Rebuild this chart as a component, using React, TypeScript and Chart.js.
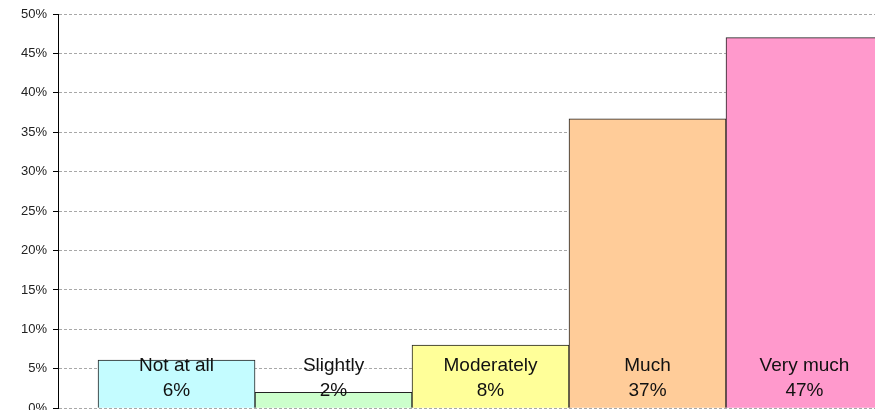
import React, { useEffect, useRef } from "react";
import { Chart, registerables } from "chart.js";

Chart.register(...registerables);

const categories = ["Not at all", "Slightly", "Moderately", "Much", "Very much"];
const values = [6.1, 2.0, 8.0, 36.7, 47.0];
const pctLabels = ["6%", "2%", "8%", "37%", "47%"];
const colors = ["#C4FCFF", "#CCFFCC", "#FFFF99", "#FFCC99", "#FF99CC"];
const yTicks = [0, 5, 10, 15, 20, 25, 30, 35, 40, 45, 50];

const barLabelPlugin = {
  id: "barLabels",
  afterDatasetsDraw(chart: any) {
    const ctx = chart.ctx;
    const meta = chart.getDatasetMeta(0);
    const y0 = chart.scales.y.getPixelForValue(0);
    ctx.save();
    ctx.fillStyle = "#111";
    ctx.font = "19px 'Liberation Sans', Arial, sans-serif";
    ctx.textAlign = "center";
    ctx.textBaseline = "middle";
    meta.data.forEach((bar: any, i: number) => {
      ctx.fillText(categories[i], bar.x, y0 - 42);
      ctx.fillText(pctLabels[i], bar.x, y0 - 17);
    });
    ctx.restore();
  },
};

export default function App() {
  const ref = useRef<HTMLCanvasElement>(null);
  useEffect(() => {
    if (!ref.current) return;
    const chart = new Chart(ref.current, {
      type: "bar",
      data: {
        labels: categories,
        datasets: [
          {
            data: values.map((v, i) => ({ x: i, y: v })),
            backgroundColor: colors,
            borderColor: "#222",
            borderWidth: 1,
            borderSkipped: "bottom",
            barPercentage: 1,
            categoryPercentage: 1,
          },
        ],
      },
      options: {
        animation: false,
        responsive: false,
        devicePixelRatio: 1,
        layout: { padding: { left: 0, top: 14, right: 7, bottom: 10 } },
        plugins: { legend: { display: false }, tooltip: { enabled: false } },
        scales: {
          x: {
            type: "linear",
            min: -0.755,
            max: 4.5,
            offset: false,
            display: false,
            afterBuildTicks(scale: any) {
              scale.ticks = categories.map((_, i) => ({ value: i }));
            },
          },
          y: {
            min: 0,
            max: 50,
            afterFit(scale: any) {
              scale.width = 58;
            },
            afterBuildTicks(scale: any) {
              scale.ticks = yTicks.map((v) => ({ value: v }));
            },
            ticks: {
              padding: 6,
              color: "#222",
              font: { family: "'Liberation Sans', Arial, sans-serif", size: 13 },
              callback: (v: any) => v + "%",
            },
            grid: {
              color: "#a8a8a8",
              tickColor: "#000",
              tickLength: 5,
              tickBorderDash: [],
              lineWidth: 1,
            },
            border: { display: true, color: "#000", width: 1, dash: [3, 2] },
          },
        },
      },
      plugins: [barLabelPlugin],
    });
    return () => chart.destroy();
  }, []);
  return (
    <div
      style={{
        position: "fixed",
        left: 0,
        top: 0,
        width: 875,
        height: 410,
        overflow: "hidden",
        background: "#fff",
      }}
    >
      <canvas ref={ref} width={890} height={422} style={{ display: "block" }} />
    </div>
  );
}
